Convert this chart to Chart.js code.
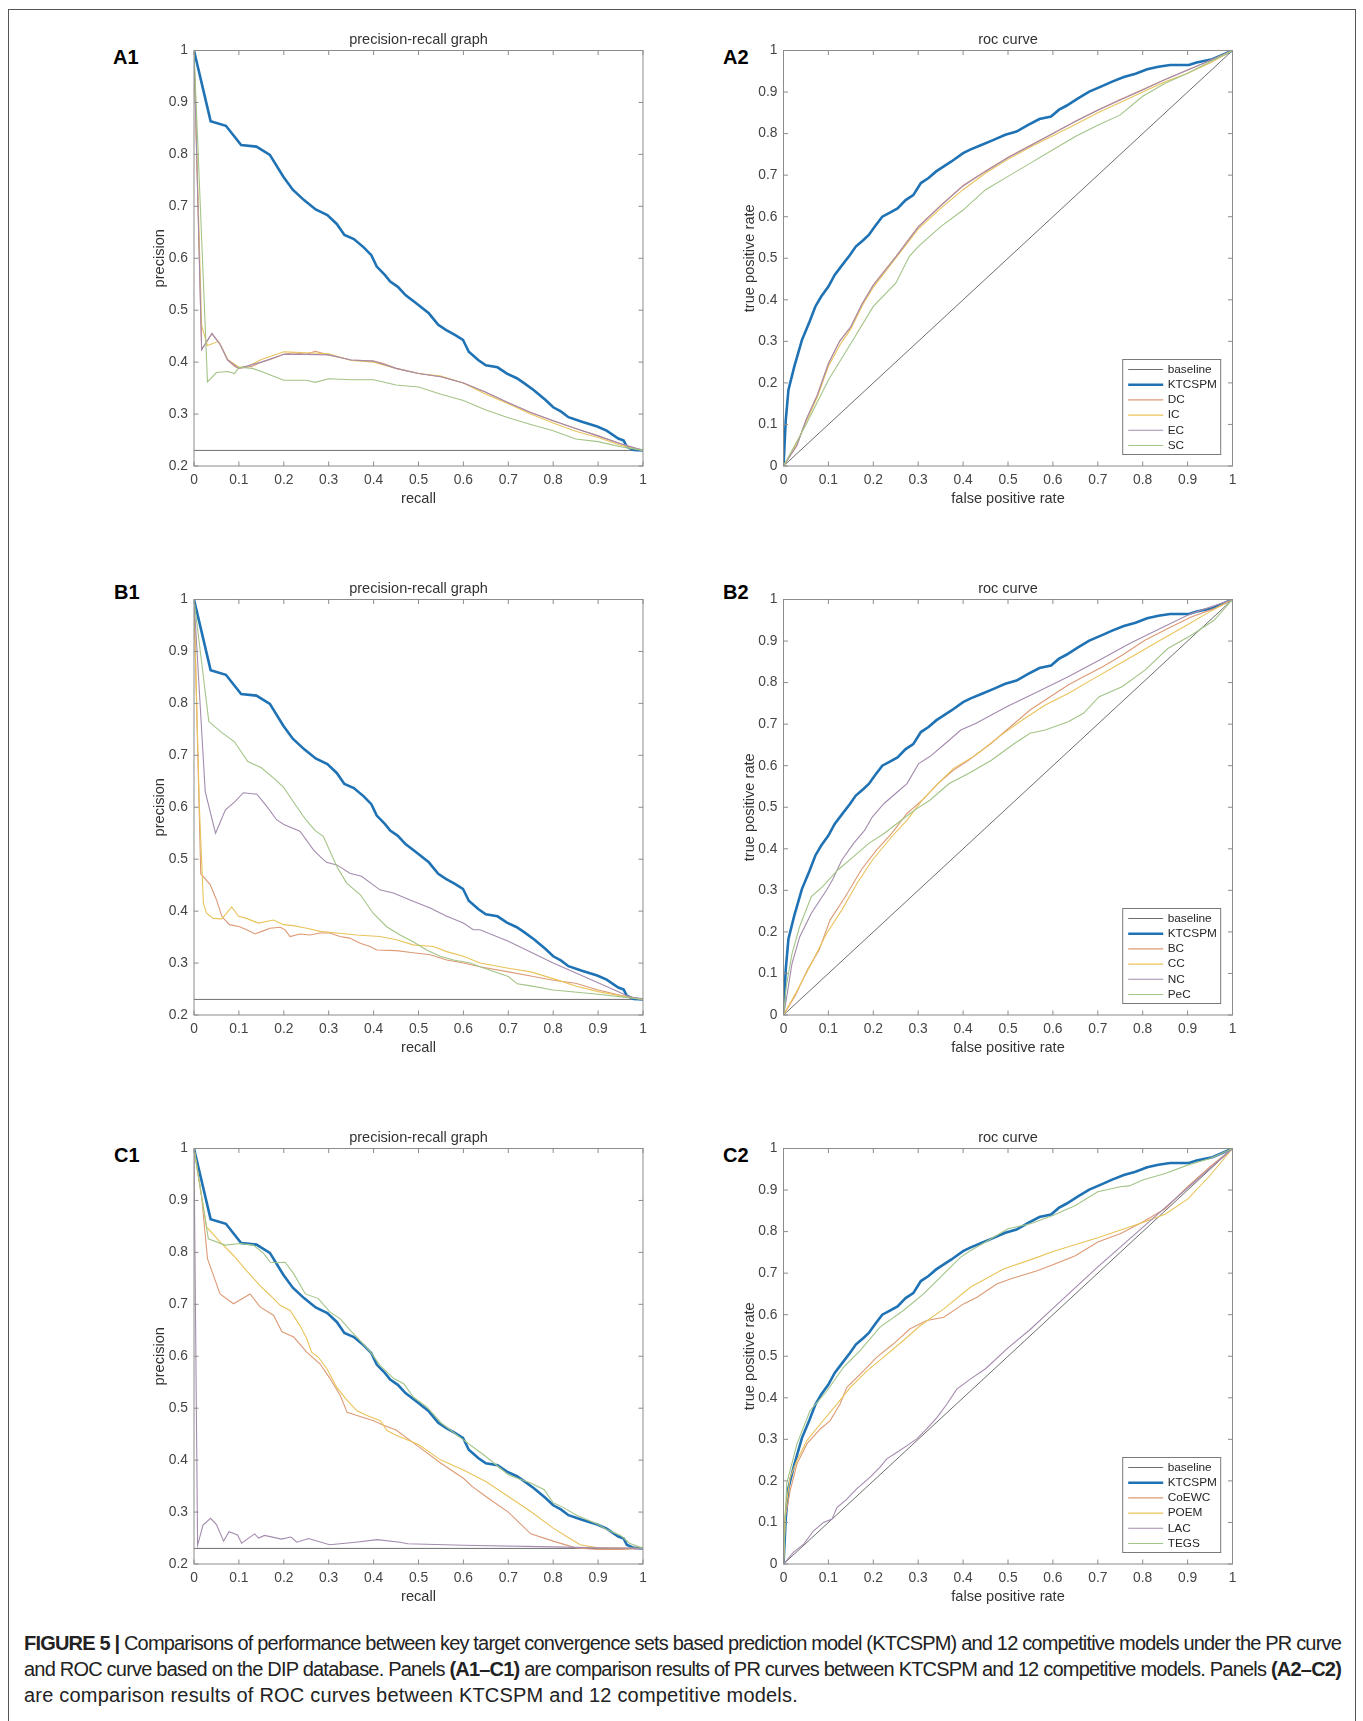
<!DOCTYPE html>
<html><head><meta charset="utf-8">
<script src="https://cdn.jsdelivr.net/npm/chart.js@4.4.1/dist/chart.umd.min.js"></script>
<style>
body{margin:0;background:#fff;width:1363px;height:1721px;position:relative;overflow:hidden;font-family:"Liberation Sans",Arial,Helvetica,sans-serif;}
.frame{position:absolute;left:8px;top:9px;width:1346px;height:1800px;border:1px solid #555;}
canvas{position:absolute;}
.plabel{position:absolute;font-weight:bold;font-size:20px;line-height:20px;color:#000;}
.cap{position:absolute;left:24px;white-space:nowrap;font-size:20px;line-height:22px;color:#222;}
</style></head><body>
<div class="frame"></div>
<div class="plabel" style="left:113px;top:47px">A1</div>
<div class="plabel" style="left:723px;top:47px">A2</div>
<div class="plabel" style="left:114px;top:582px">B1</div>
<div class="plabel" style="left:723px;top:582px">B2</div>
<div class="plabel" style="left:114px;top:1145px">C1</div>
<div class="plabel" style="left:723px;top:1145px">C2</div>
<canvas id="cA1"></canvas><canvas id="cA2"></canvas>
<canvas id="cB1"></canvas><canvas id="cB2"></canvas>
<canvas id="cC1"></canvas><canvas id="cC2"></canvas>
<div class="cap" data-w="1317" style="top:1632px"><b>FIGURE 5 |</b> Comparisons of performance between key target convergence sets based prediction model (KTCSPM) and 12 competitive models under the PR curve</div>
<div class="cap" data-w="1317" style="top:1658px">and ROC curve based on the DIP database. Panels <b>(A1–C1)</b> are comparison results of PR curves between KTCSPM and 12 competitive models. Panels <b>(A2–C2)</b></div>
<div class="cap" data-w="774" style="top:1684px">are comparison results of ROC curves between KTCSPM and 12 competitive models.</div>
<script>
// ---------- tick labels ----------
const tickLabels = ['0','0.1','0.2','0.3','0.4','0.5','0.6','0.7','0.8','0.9','1'];

// ---------- series names ----------
const namesA = ['baseline','KTCSPM','DC','IC','EC','SC'];
const namesB = ['baseline','KTCSPM','BC','CC','NC','PeC'];
const namesC = ['baseline','KTCSPM','CoEWC','POEM','LAC','TEGS'];

// ---------- shared curves ----------
const baselinePR = [[0,0.23],[1,0.23]];
const baselineROC = [[0,0],[1,1]];
const ktcspmPR = [[0,1],[0.037,0.864],[0.071,0.855],[0.105,0.818],[0.139,0.815],[0.169,0.799],[0.199,0.757],[0.22,0.732],[0.245,0.712],[0.271,0.694],[0.297,0.683],[0.318,0.666],[0.335,0.645],[0.356,0.637],[0.378,0.621],[0.395,0.606],[0.407,0.584],[0.425,0.568],[0.437,0.555],[0.454,0.545],[0.471,0.529],[0.497,0.512],[0.523,0.494],[0.544,0.472],[0.561,0.462],[0.582,0.452],[0.599,0.443],[0.612,0.42],[0.633,0.404],[0.65,0.394],[0.676,0.39],[0.697,0.378],[0.719,0.369],[0.736,0.359],[0.757,0.346],[0.783,0.327],[0.8,0.313],[0.817,0.305],[0.834,0.294],[0.864,0.285],[0.898,0.276],[0.919,0.268],[0.945,0.253],[0.957,0.249],[0.964,0.237],[0.979,0.231],[1,0.23]];
const ktcspmROC = [[0,0],[0.005,0.11],[0.011,0.183],[0.024,0.239],[0.041,0.303],[0.058,0.347],[0.071,0.384],[0.084,0.408],[0.1,0.432],[0.114,0.46],[0.131,0.484],[0.148,0.508],[0.161,0.528],[0.178,0.544],[0.19,0.556],[0.203,0.576],[0.22,0.6],[0.237,0.61],[0.254,0.62],[0.272,0.64],[0.289,0.652],[0.306,0.681],[0.323,0.693],[0.34,0.709],[0.357,0.721],[0.374,0.733],[0.4,0.753],[0.417,0.762],[0.442,0.773],[0.468,0.785],[0.494,0.797],[0.519,0.805],[0.545,0.821],[0.57,0.835],[0.596,0.841],[0.613,0.857],[0.63,0.867],[0.656,0.885],[0.681,0.901],[0.707,0.913],[0.732,0.925],[0.758,0.936],[0.784,0.944],[0.81,0.955],[0.835,0.961],[0.861,0.965],[0.903,0.965],[0.92,0.971],[0.955,0.979],[1,1]];

// ---------- panel A ----------
const dcPR = [[0,1],[0.017,0.424],[0.04,0.455],[0.058,0.435],[0.075,0.404],[0.09,0.392],[0.1,0.388],[0.13,0.392],[0.15,0.4],[0.17,0.405],[0.2,0.415],[0.22,0.418],[0.25,0.415],[0.27,0.421],[0.3,0.414],[0.35,0.404],[0.4,0.402],[0.42,0.398],[0.45,0.388],[0.5,0.378],[0.55,0.372],[0.6,0.36],[0.65,0.342],[0.7,0.322],[0.75,0.303],[0.8,0.287],[0.85,0.272],[0.9,0.258],[0.95,0.243],[1,0.23]];
const icPR = [[0,1],[0.017,0.47],[0.03,0.432],[0.055,0.44],[0.075,0.405],[0.1,0.39],[0.12,0.392],[0.15,0.405],[0.2,0.42],[0.25,0.418],[0.3,0.416],[0.35,0.403],[0.4,0.4],[0.45,0.388],[0.5,0.378],[0.55,0.373],[0.6,0.36],[0.65,0.338],[0.7,0.32],[0.75,0.3],[0.8,0.283],[0.85,0.267],[0.9,0.255],[0.95,0.24],[1,0.23]];
const ecPR = [[0,1],[0.017,0.424],[0.04,0.455],[0.058,0.434],[0.075,0.404],[0.1,0.388],[0.15,0.4],[0.2,0.415],[0.25,0.415],[0.3,0.414],[0.35,0.404],[0.4,0.402],[0.45,0.388],[0.5,0.378],[0.55,0.372],[0.6,0.36],[0.65,0.342],[0.7,0.322],[0.75,0.303],[0.8,0.287],[0.85,0.272],[0.9,0.258],[0.95,0.243],[1,0.23]];
const scPR = [[0,1],[0.03,0.362],[0.05,0.38],[0.075,0.382],[0.09,0.378],[0.1,0.39],[0.13,0.388],[0.15,0.382],[0.17,0.375],[0.2,0.365],[0.25,0.365],[0.27,0.361],[0.3,0.368],[0.35,0.366],[0.4,0.366],[0.45,0.356],[0.5,0.352],[0.55,0.338],[0.6,0.326],[0.65,0.308],[0.7,0.293],[0.75,0.28],[0.8,0.268],[0.85,0.252],[0.9,0.247],[0.95,0.237],[1,0.23]];
const dcROC = [[0,0],[0.03,0.05],[0.05,0.11],[0.075,0.17],[0.1,0.247],[0.125,0.3],[0.15,0.335],[0.175,0.39],[0.2,0.436],[0.25,0.504],[0.3,0.576],[0.35,0.627],[0.4,0.675],[0.45,0.71],[0.5,0.743],[0.55,0.772],[0.6,0.8],[0.65,0.83],[0.7,0.857],[0.75,0.882],[0.8,0.906],[0.85,0.93],[0.9,0.953],[0.95,0.976],[1,1]];
const icROC = [[0,0],[0.03,0.055],[0.05,0.105],[0.075,0.165],[0.1,0.24],[0.125,0.29],[0.15,0.33],[0.175,0.385],[0.2,0.43],[0.25,0.5],[0.3,0.57],[0.35,0.62],[0.4,0.665],[0.45,0.705],[0.5,0.738],[0.55,0.768],[0.6,0.795],[0.65,0.822],[0.7,0.85],[0.75,0.875],[0.8,0.9],[0.85,0.925],[0.9,0.945],[0.95,0.97],[1,1]];
const ecROC = [[0,0],[0.03,0.05],[0.05,0.11],[0.075,0.17],[0.1,0.246],[0.125,0.3],[0.15,0.335],[0.175,0.39],[0.2,0.435],[0.25,0.503],[0.3,0.575],[0.35,0.626],[0.4,0.674],[0.45,0.709],[0.5,0.742],[0.55,0.771],[0.6,0.8],[0.65,0.829],[0.7,0.856],[0.75,0.881],[0.8,0.905],[0.85,0.93],[0.9,0.953],[0.95,0.976],[1,1]];
const scROC = [[0,0],[0.05,0.099],[0.1,0.207],[0.15,0.295],[0.2,0.384],[0.25,0.44],[0.28,0.504],[0.3,0.528],[0.35,0.576],[0.4,0.616],[0.45,0.665],[0.5,0.697],[0.55,0.729],[0.6,0.761],[0.65,0.793],[0.7,0.82],[0.75,0.845],[0.8,0.89],[0.85,0.921],[0.9,0.945],[0.95,0.973],[1,1]];

// ---------- panel B ----------
const bcPR = [[0,1],[0.015,0.472],[0.036,0.451],[0.05,0.422],[0.062,0.39],[0.069,0.383],[0.079,0.374],[0.102,0.37],[0.117,0.364],[0.136,0.356],[0.151,0.361],[0.169,0.367],[0.192,0.369],[0.203,0.364],[0.214,0.351],[0.236,0.356],[0.258,0.354],[0.281,0.358],[0.303,0.358],[0.325,0.351],[0.347,0.348],[0.37,0.338],[0.392,0.332],[0.407,0.325],[0.451,0.324],[0.488,0.32],[0.526,0.316],[0.563,0.306],[0.6,0.3],[0.637,0.293],[0.7,0.283],[0.75,0.275],[0.8,0.267],[0.85,0.261],[0.9,0.248],[0.95,0.238],[1,0.23]];
const ccPR = [[0,1],[0.012,0.6],[0.021,0.415],[0.028,0.396],[0.043,0.386],[0.062,0.385],[0.084,0.408],[0.099,0.39],[0.117,0.386],[0.143,0.377],[0.177,0.383],[0.199,0.374],[0.221,0.372],[0.251,0.367],[0.281,0.361],[0.318,0.358],[0.362,0.354],[0.414,0.351],[0.451,0.345],[0.488,0.335],[0.533,0.332],[0.563,0.322],[0.6,0.313],[0.637,0.3],[0.7,0.29],[0.75,0.283],[0.8,0.27],[0.85,0.256],[0.9,0.245],[0.95,0.237],[1,0.23]];
const ncPR = [[0,1],[0.025,0.63],[0.048,0.55],[0.07,0.595],[0.09,0.61],[0.11,0.628],[0.14,0.625],[0.16,0.604],[0.184,0.576],[0.2,0.567],[0.236,0.554],[0.266,0.518],[0.281,0.505],[0.295,0.494],[0.318,0.489],[0.347,0.473],[0.373,0.467],[0.414,0.441],[0.444,0.435],[0.488,0.419],[0.526,0.406],[0.563,0.39],[0.6,0.377],[0.622,0.364],[0.637,0.364],[0.7,0.342],[0.8,0.3],[0.9,0.262],[0.97,0.235],[1,0.23]];
const pecPR = [[0,1],[0.033,0.765],[0.06,0.745],[0.09,0.726],[0.12,0.688],[0.15,0.676],[0.18,0.654],[0.2,0.638],[0.22,0.612],[0.249,0.576],[0.27,0.555],[0.288,0.544],[0.318,0.486],[0.34,0.454],[0.37,0.432],[0.399,0.396],[0.429,0.37],[0.459,0.354],[0.488,0.341],[0.518,0.325],[0.548,0.313],[0.578,0.306],[0.615,0.3],[0.637,0.293],[0.7,0.274],[0.72,0.26],[0.75,0.256],[0.8,0.248],[0.9,0.24],[1,0.23]];
const bcROC = [[0,0],[0.027,0.048],[0.053,0.108],[0.079,0.156],[0.104,0.229],[0.138,0.285],[0.173,0.349],[0.207,0.397],[0.241,0.437],[0.275,0.485],[0.309,0.517],[0.344,0.557],[0.378,0.589],[0.412,0.613],[0.463,0.654],[0.497,0.686],[0.549,0.734],[0.583,0.758],[0.634,0.794],[0.668,0.814],[0.711,0.838],[0.754,0.866],[0.805,0.902],[0.856,0.93],[0.908,0.958],[0.959,0.978],[1,1]];
const ccROC = [[0,0],[0.027,0.052],[0.062,0.124],[0.096,0.196],[0.13,0.253],[0.164,0.317],[0.198,0.373],[0.241,0.429],[0.275,0.469],[0.309,0.517],[0.344,0.557],[0.378,0.593],[0.429,0.626],[0.48,0.67],[0.532,0.71],[0.583,0.746],[0.634,0.774],[0.685,0.806],[0.737,0.838],[0.788,0.87],[0.839,0.902],[0.891,0.934],[0.942,0.966],[1,1]];
const ncROC = [[0,0],[0.006,0.036],[0.019,0.124],[0.036,0.188],[0.062,0.245],[0.096,0.301],[0.109,0.325],[0.13,0.373],[0.156,0.413],[0.181,0.445],[0.198,0.477],[0.224,0.509],[0.258,0.541],[0.275,0.557],[0.301,0.605],[0.326,0.622],[0.361,0.654],[0.395,0.686],[0.429,0.702],[0.497,0.742],[0.566,0.778],[0.634,0.814],[0.703,0.854],[0.771,0.894],[0.839,0.93],[0.908,0.966],[1,1]];
const pecROC = [[0,0],[0.006,0.068],[0.019,0.148],[0.036,0.213],[0.062,0.285],[0.087,0.309],[0.121,0.349],[0.156,0.381],[0.19,0.413],[0.224,0.437],[0.258,0.465],[0.292,0.493],[0.326,0.517],[0.369,0.557],[0.412,0.581],[0.463,0.613],[0.515,0.654],[0.549,0.678],[0.583,0.686],[0.634,0.706],[0.668,0.726],[0.703,0.766],[0.754,0.79],[0.805,0.83],[0.856,0.882],[0.908,0.914],[0.959,0.95],[1,1]];

// ---------- panel C ----------
const coewcPR = [[0,1],[0.017,0.907],[0.03,0.788],[0.058,0.72],[0.088,0.701],[0.125,0.72],[0.147,0.695],[0.177,0.679],[0.196,0.647],[0.222,0.637],[0.251,0.608],[0.281,0.585],[0.303,0.557],[0.326,0.524],[0.341,0.492],[0.363,0.486],[0.4,0.476],[0.422,0.467],[0.45,0.458],[0.5,0.426],[0.55,0.394],[0.6,0.365],[0.62,0.349],[0.65,0.33],[0.7,0.3],[0.75,0.258],[0.8,0.244],[0.85,0.231],[0.9,0.228],[0.95,0.228],[1,0.23]];
const poemPR = [[0,1],[0.028,0.849],[0.058,0.82],[0.088,0.794],[0.117,0.765],[0.147,0.736],[0.17,0.717],[0.192,0.698],[0.214,0.688],[0.236,0.659],[0.251,0.634],[0.262,0.608],[0.277,0.598],[0.296,0.576],[0.318,0.54],[0.341,0.515],[0.363,0.495],[0.385,0.486],[0.415,0.476],[0.43,0.457],[0.45,0.448],[0.5,0.43],[0.55,0.4],[0.6,0.381],[0.65,0.359],[0.7,0.33],[0.75,0.301],[0.8,0.269],[0.83,0.253],[0.86,0.237],[0.9,0.231],[1,0.23]];
const lacPR = [[0,1],[0.008,0.236],[0.02,0.275],[0.037,0.288],[0.05,0.276],[0.066,0.244],[0.078,0.262],[0.097,0.256],[0.106,0.24],[0.135,0.258],[0.144,0.25],[0.157,0.255],[0.195,0.248],[0.216,0.252],[0.229,0.242],[0.255,0.249],[0.302,0.237],[0.36,0.242],[0.408,0.247],[0.459,0.242],[0.476,0.239],[0.6,0.236],[0.8,0.233],[0.9,0.231],[1,0.23]];
const tegsPR = [[0,1],[0.032,0.826],[0.069,0.814],[0.103,0.817],[0.132,0.814],[0.155,0.798],[0.17,0.781],[0.184,0.78],[0.203,0.781],[0.222,0.759],[0.248,0.72],[0.277,0.711],[0.303,0.685],[0.326,0.672],[0.348,0.65],[0.37,0.63],[0.393,0.608],[0.415,0.582],[0.445,0.557],[0.467,0.547],[0.489,0.521],[0.519,0.502],[0.55,0.472],[0.6,0.439],[0.65,0.407],[0.7,0.372],[0.72,0.365],[0.75,0.356],[0.78,0.343],[0.8,0.318],[0.82,0.31],[0.85,0.295],[0.9,0.276],[0.92,0.266],[0.95,0.255],[0.97,0.24],[1,0.23]];
const coewcROC = [[0,0],[0.004,0.112],[0.015,0.177],[0.03,0.241],[0.052,0.289],[0.082,0.325],[0.104,0.345],[0.126,0.385],[0.141,0.425],[0.171,0.457],[0.208,0.498],[0.245,0.53],[0.282,0.566],[0.319,0.586],[0.357,0.594],[0.401,0.626],[0.431,0.642],[0.475,0.674],[0.505,0.686],[0.565,0.706],[0.6,0.72],[0.65,0.742],[0.7,0.775],[0.75,0.795],[0.8,0.823],[0.85,0.855],[0.9,0.908],[0.95,0.956],[1,1]];
const poemROC = [[0,0],[0.004,0.128],[0.015,0.209],[0.03,0.249],[0.052,0.297],[0.082,0.337],[0.119,0.385],[0.149,0.425],[0.186,0.465],[0.223,0.498],[0.267,0.538],[0.305,0.574],[0.357,0.614],[0.416,0.666],[0.49,0.71],[0.565,0.738],[0.6,0.752],[0.7,0.785],[0.8,0.822],[0.85,0.842],[0.9,0.878],[0.95,0.935],[1,1]];
const lacROC = [[0,0],[0.022,0.028],[0.045,0.048],[0.067,0.08],[0.089,0.1],[0.108,0.108],[0.119,0.136],[0.141,0.156],[0.163,0.181],[0.193,0.209],[0.215,0.233],[0.23,0.253],[0.253,0.269],[0.275,0.285],[0.297,0.301],[0.319,0.325],[0.342,0.353],[0.364,0.385],[0.386,0.421],[0.416,0.445],[0.45,0.47],[0.5,0.52],[0.55,0.565],[0.6,0.615],[0.65,0.665],[0.7,0.715],[0.8,0.81],[0.9,0.905],[1,1]];
const tegsROC = [[0,0],[0.007,0.193],[0.03,0.289],[0.059,0.369],[0.097,0.417],[0.134,0.474],[0.171,0.514],[0.215,0.57],[0.267,0.61],[0.312,0.65],[0.357,0.698],[0.394,0.738],[0.416,0.754],[0.45,0.775],[0.5,0.807],[0.55,0.819],[0.6,0.839],[0.65,0.863],[0.7,0.896],[0.75,0.908],[0.77,0.91],[0.8,0.924],[0.85,0.94],[0.9,0.96],[0.95,0.976],[1,1]];

// ---------- styles ----------
const FONT = '"Liberation Sans", Arial, Helvetica, sans-serif';
const lineColors = ['#6e6e6e','#1f72b4','#dd9a76','#e9c45a','#a48bae','#a3c487'];
const lineWidths = [1,2.6,1.1,1.1,1.1,1.1];

const boxPlugin = {
  id: 'matlabBox',
  afterDatasetsDraw(chart) {
    const ctx = chart.ctx, a = chart.chartArea, xs = chart.scales.x, ys = chart.scales.y, L = 4.5;
    ctx.save();
    ctx.strokeStyle = '#8c8c8c'; ctx.lineWidth = 1;
    ctx.strokeRect(a.left, a.top, a.right - a.left, a.bottom - a.top);
    ctx.beginPath();
    xs.ticks.forEach(t => { const p = xs.getPixelForValue(t.value);
      ctx.moveTo(p, a.bottom); ctx.lineTo(p, a.bottom - L); ctx.moveTo(p, a.top); ctx.lineTo(p, a.top + L); });
    ys.ticks.forEach(t => { const p = ys.getPixelForValue(t.value);
      ctx.moveTo(a.left, p); ctx.lineTo(a.left + L, p); ctx.moveTo(a.right, p); ctx.lineTo(a.right - L, p); });
    ctx.stroke(); ctx.restore();
  }
};
const legendPlugin = {
  id: 'matlabLegend',
  afterDraw(chart, args, opts) {
    if (!opts.show) return;
    const ctx = chart.ctx, a = chart.chartArea;
    const w = 98, h = 95, right = a.right - 11.8, bottom = a.bottom - 11.5;
    const left = right - w, top = bottom - h;
    ctx.save();
    ctx.fillStyle = '#fff'; ctx.fillRect(left, top, w, h);
    ctx.strokeStyle = '#7a7a7a'; ctx.lineWidth = 1; ctx.strokeRect(left, top, w, h);
    ctx.font = '11.8px ' + FONT; ctx.textBaseline = 'middle'; ctx.textAlign = 'left';
    chart.data.datasets.forEach((ds, i) => {
      const y = top + 10 + i * 15.2;
      ctx.strokeStyle = ds.borderColor; ctx.lineWidth = ds.borderWidth;
      ctx.beginPath(); ctx.moveTo(left + 5.5, y); ctx.lineTo(left + 40.5, y); ctx.stroke();
      ctx.fillStyle = '#262626'; ctx.fillText(ds.label, left + 45, y);
    });
    ctx.restore();
  }
};

const PLOT_W = 449, PLOT_H = 415.5;
function makePanel(id, plotLeft, plotTop, names, series, isROC) {
  const cv = document.getElementById(id);
  const cLeft = Math.floor(plotLeft - 100), cTop = Math.floor(plotTop - 40);
  const W = 569, H = 510;
  cv.width = W; cv.height = H;
  cv.style.left = cLeft + 'px'; cv.style.top = cTop + 'px';
  const Y_W = 50, X_H = 44, TITLE_H = 14.5 * 1.2 + 2.1;
  const datasets = series.map((d, i) => ({
    label: names[i], data: d, borderColor: lineColors[i], borderWidth: lineWidths[i],
    pointRadius: 0, tension: 0, fill: false, order: -i
  }));
  const tickCb = v => tickLabels[Math.round(v * 10)];
  new Chart(cv, {
    type: 'line',
    data: { datasets },
    plugins: [boxPlugin, legendPlugin],
    options: {
      responsive: false, animation: false, devicePixelRatio: 1,
      layout: { padding: { left: plotLeft - cLeft - Y_W, top: plotTop - cTop - TITLE_H, right: W - (plotLeft - cLeft) - PLOT_W, bottom: H - (plotTop - cTop) - PLOT_H - X_H } },
      plugins: {
        legend: { display: false }, tooltip: { enabled: false },
        title: { display: true, fullSize: false, text: isROC ? 'roc curve' : 'precision-recall graph', color: '#333', font: { family: FONT, size: 14.5, weight: 'normal' }, padding: { top: 0, bottom: 2.1 } },
        matlabLegend: { show: isROC }
      },
      scales: {
        x: { type: 'linear', min: 0, max: 1,
          afterFit: s => { s.height = X_H; },
          ticks: { stepSize: 0.1, autoSkip: false, maxRotation: 0, padding: 5.5, color: '#444', font: { family: FONT, size: 13.8 }, callback: tickCb },
          grid: { display: false, drawTicks: false }, border: { display: false },
          title: { display: true, text: isROC ? 'false positive rate' : 'recall', color: '#333', font: { family: FONT, size: 14.6 }, padding: { top: 0, bottom: 2.7 } } },
        y: { type: 'linear', min: isROC ? 0 : 0.2, max: 1,
          afterFit: s => { s.width = Y_W; },
          ticks: { stepSize: 0.1, autoSkip: false, padding: 6, color: '#444', font: { family: FONT, size: 13.8 }, callback: tickCb },
          grid: { display: false, drawTicks: false }, border: { display: false },
          title: { display: true, text: isROC ? 'true positive rate' : 'precision', color: '#333', font: { family: FONT, size: 14.6 }, padding: { top: 7.4, bottom: 0 } } }
      }
    }
  });
}

const COL1 = 194, COL2 = 783.5, ROWA = 50.5, ROWB = 599.5, ROWC = 1148.5;
makePanel('cA1', COL1, ROWA, namesA, [baselinePR, ktcspmPR, dcPR, icPR, ecPR, scPR], false);
makePanel('cA2', COL2, ROWA, namesA, [baselineROC, ktcspmROC, dcROC, icROC, ecROC, scROC], true);
makePanel('cB1', COL1, ROWB, namesB, [baselinePR, ktcspmPR, bcPR, ccPR, ncPR, pecPR], false);
makePanel('cB2', COL2, ROWB, namesB, [baselineROC, ktcspmROC, bcROC, ccROC, ncROC, pecROC], true);
makePanel('cC1', COL1, ROWC, namesC, [baselinePR, ktcspmPR, coewcPR, poemPR, lacPR, tegsPR], false);
makePanel('cC2', COL2, ROWC, namesC, [baselineROC, ktcspmROC, coewcROC, poemROC, lacROC, tegsROC], true);

// fit each caption line to its measured width in the figure via letter spacing
document.querySelectorAll('.cap').forEach(el => {
  const target = +el.dataset.w;
  const nat = el.getBoundingClientRect().width;
  const chars = el.textContent.length;
  el.style.letterSpacing = ((target - nat) / chars) + 'px';
});
</script>
</body></html>
